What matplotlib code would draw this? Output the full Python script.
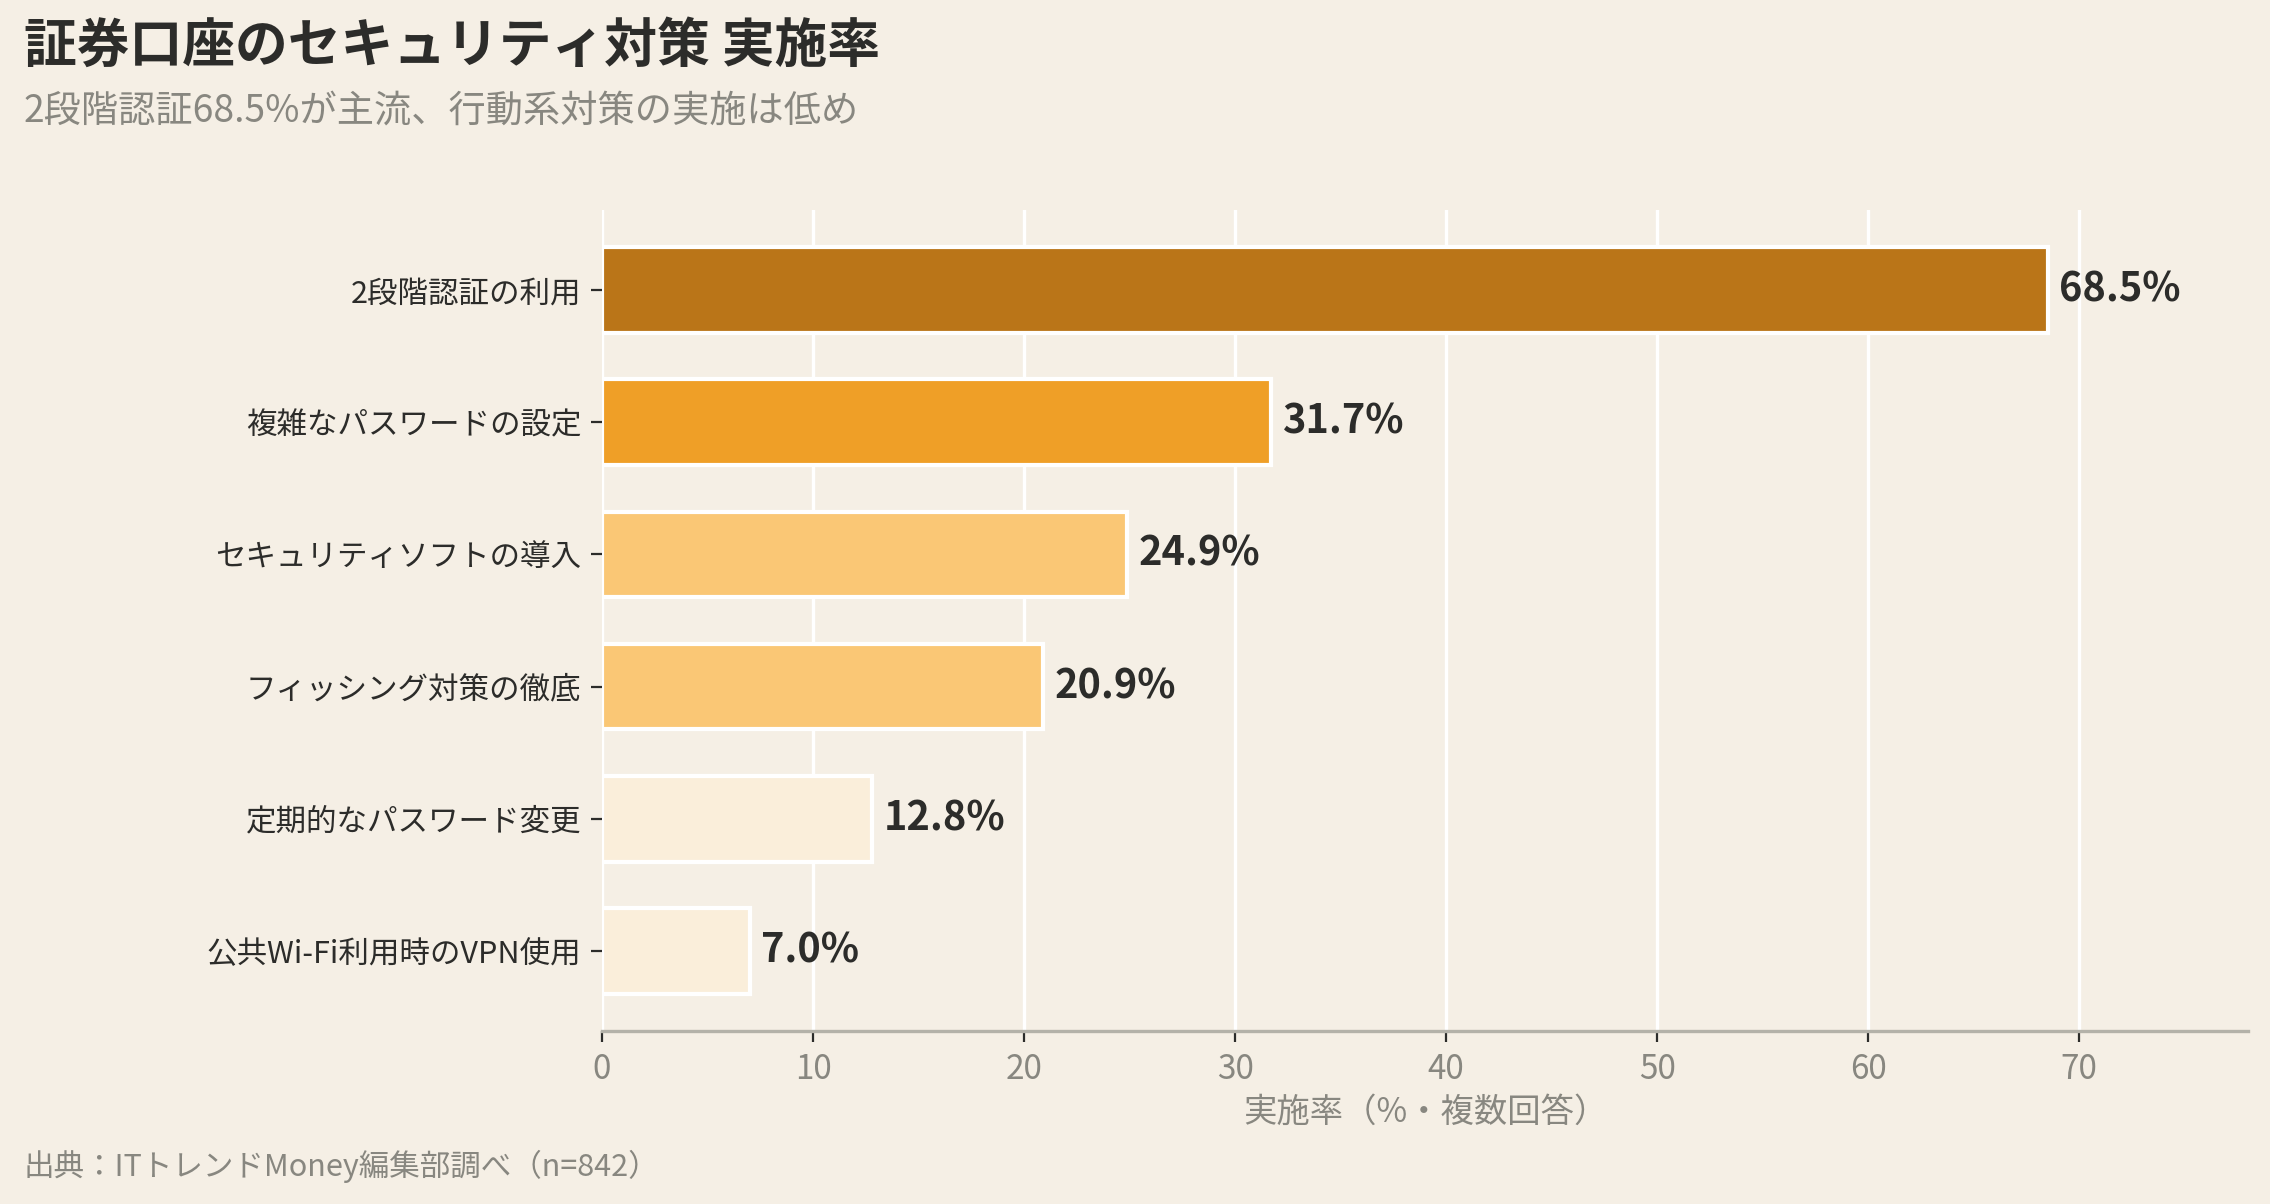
import matplotlib
matplotlib.use("Agg")
import matplotlib.pyplot as plt

plt.rcParams['font.family'] = ['Noto Sans CJK JP', 'DejaVu Sans']

categories = ["2段階認証の利用", "複雑なパスワードの設定", "セキュリティソフトの導入",
              "フィッシング対策の徹底", "定期的なパスワード変更", "公共Wi-Fi利用時のVPN使用"]
values = [68.5, 31.7, 24.9, 20.9, 12.8, 7.0]
colors = ["#BA7518", "#EF9F27", "#FAC775", "#FAC775", "#FAEEDA", "#FAEEDA"]
xticks = [0, 10, 20, 30, 40, 50, 60, 70]

title = "証券口座のセキュリティ対策 実施率"
subtitle = "2段階認証68.5%が主流、行動系対策の実施は低め"
xlabel = "実施率（%・複数回答）"
source = "出典：ITトレンドMoney編集部調べ（n=842）"

bg = "#F5EFE5"
dark = "#2C2C2A"
gray = "#888780"

fig = plt.figure(figsize=(11.35, 6.02), dpi=200, facecolor=bg)
ax = fig.add_axes([602/2270, 1 - 1031/1204, (2248-602)/2270, (1031-210)/1204])
ax.set_facecolor(bg)

y = list(range(len(categories)))
ax.barh(y, values, height=0.65, color=colors, edgecolor="white", linewidth=1.5, zorder=3)
ax.invert_yaxis()
ax.set_xlim(0, 78)
ax.set_xticks(xticks)
ax.set_yticks(y)
ax.set_yticklabels(categories, fontsize=11, color=dark)
ax.tick_params(axis='x', labelsize=12, labelcolor=gray, color=dark, length=4, width=0.8)
ax.tick_params(axis='y', color=dark, length=4, width=0.8)
ax.grid(axis='x', color="white", linewidth=1.2, zorder=0)
ax.set_axisbelow(True)
for s in ["top", "right", "left"]:
    ax.spines[s].set_visible(False)
ax.spines["bottom"].set_color("#B4B2A9")
ax.spines["bottom"].set_linewidth(1.2)

for yi, v in zip(y, values):
    ax.text(v + 0.55, yi, f"{v:.1f}%", va="center", ha="left", fontsize=14.3,
            fontweight="bold", color=dark, zorder=4)

ax.set_xlabel(xlabel, fontsize=12, color=gray, labelpad=3)

fig.text(24/2270, 1 - 62/1204, title, fontsize=19, fontweight="bold", color=dark, va="baseline")
fig.text(24/2270, 1 - 122/1204, subtitle, fontsize=13.4, color=gray, va="baseline")
fig.text(24/2270, 1 - 1176/1204, source, fontsize=11, color=gray, va="baseline")

fig.savefig("out.png", dpi=200, facecolor=bg)
